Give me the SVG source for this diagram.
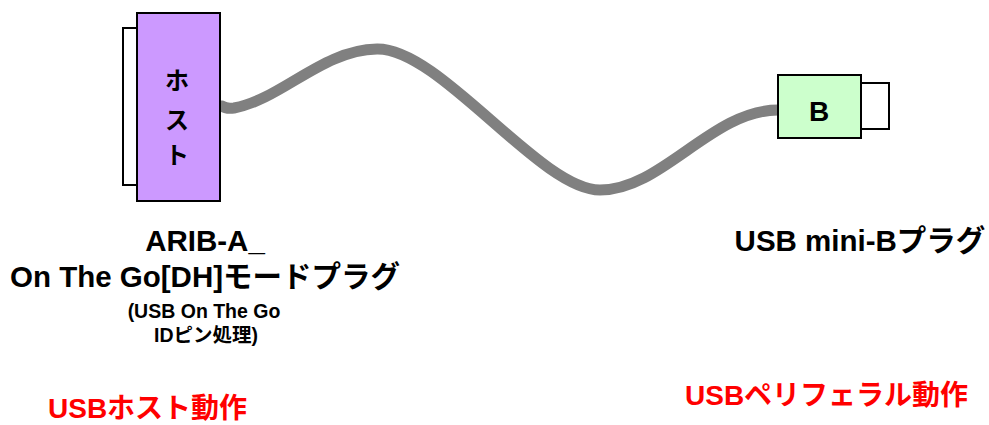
<svg xmlns="http://www.w3.org/2000/svg" width="989" height="425" viewBox="0 0 989 425">
  <style>
    .lbl { font-family: "Liberation Sans", Arial, "Noto Sans CJK JP", sans-serif; font-weight: bold; text-anchor: middle; fill: #000; }
    .big { font-size: 29.5px; }
    .mode { font-size: 28px; }
    .small { font-size: 19.5px; }
    .red { fill: #FF0000; text-anchor: start; }
    .frame { stroke: #000; stroke-width: 2; }
    .cable { fill: none; stroke: #808080; stroke-width: 11; stroke-linecap: round; }
  </style>

  <!-- USB cable between the two plugs -->
  <g id="connectors">
    <path class="cable" d="M222,106 Q226,109 234,108 C282,99 322,50 377,49 C440,48 540,190 600,190 C662,190 712,110 778,110"/>
  </g>

  <!-- Host-side plug (ARIB-A / OTG) -->
  <g id="host-plug">
    <rect class="frame" x="123" y="28" width="14" height="157" fill="#FFFFFF"/>
    <rect class="frame" x="137" y="13" width="83" height="188" fill="#CC99FF"/>
    <text class="lbl" x="177" y="89" font-size="24">ホ</text>
    <text class="lbl" x="177" y="129" font-size="24">ス</text>
    <text class="lbl" x="177" y="164" font-size="24">ト</text>
  </g>

  <!-- Device-side plug (mini-B) -->
  <g id="mini-b-plug">
    <rect class="frame" x="861" y="83" width="28" height="46" fill="#FFFFFF"/>
    <rect class="frame" x="778" y="75" width="83" height="63" fill="#CCFFCC"/>
    <text class="lbl" x="819" y="121" font-size="28">B</text>
  </g>

  <!-- Plug captions -->
  <g id="host-caption">
    <text class="lbl big" x="205" y="251">ARIB-A_</text>
    <text class="lbl big" x="205" y="287">On The Go[DH]モードプラグ</text>
    <text class="lbl small" x="204" y="318">(USB On The Go</text>
    <text class="lbl small" x="206" y="342">IDピン処理)</text>
  </g>
  <g id="device-caption">
    <text class="lbl big" x="860" y="251">USB mini-Bプラグ</text>
  </g>

  <!-- Operating-mode notes -->
  <g id="mode-notes">
    <text class="lbl mode red" x="48" y="418">USBホスト動作</text>
    <text class="lbl mode red" x="685" y="405">USBペリフェラル動作</text>
  </g>
</svg>
